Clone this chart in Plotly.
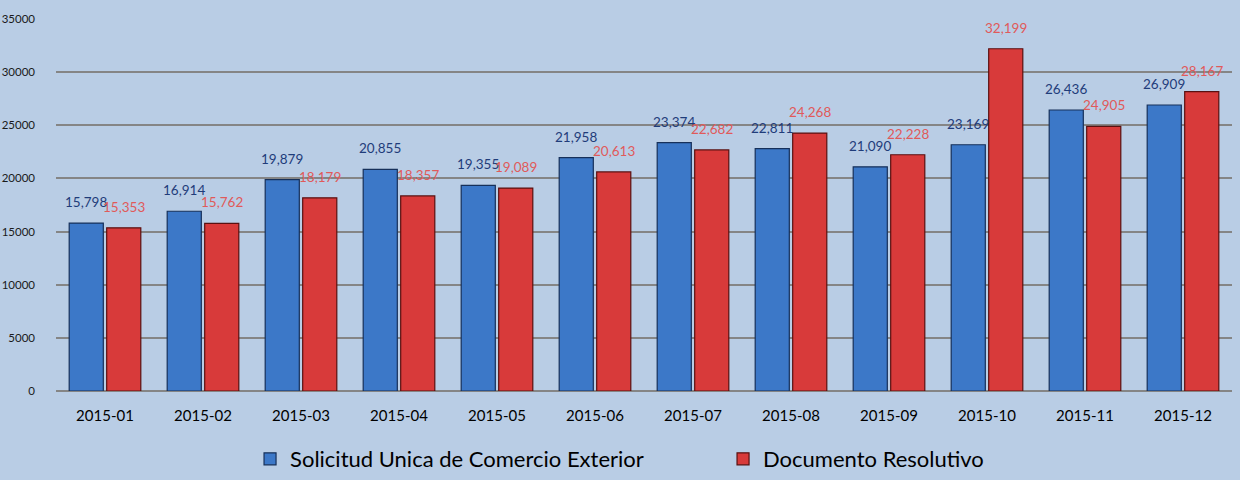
import plotly.graph_objects as go

months = ["2015-01", "2015-02", "2015-03", "2015-04", "2015-05", "2015-06",
          "2015-07", "2015-08", "2015-09", "2015-10", "2015-11", "2015-12"]
sol_unica = [15798, 16914, 19879, 20855, 19355, 21958,
             23374, 22811, 21090, 23169, 26436, 26909]
doc_resolutivo = [15353, 15762, 18179, 18357, 19089, 20613,
                  22682, 24268, 22228, 32199, 24905, 28167]

bg = "#B9CDE5"
font_name = "Lato, 'Open Sans', sans-serif"

fig = go.Figure()
fig.add_trace(go.Bar(
    x=months, y=sol_unica, name="Solicitud Unica de Comercio Exterior",
    marker=dict(color="#3C78C8", line=dict(color="#16305A", width=1.2)),
))
fig.add_trace(go.Bar(
    x=months, y=doc_resolutivo, name="Documento Resolutivo",
    marker=dict(color="#D83A3A", line=dict(color="#5A1010", width=1.2)),
))

# value labels sit ~21px above each bar top
for vals, shift, color in [(sol_unica, -19, "#1F3C7A"), (doc_resolutivo, 19, "#E05A5A")]:
    for m, v in zip(months, vals):
        fig.add_annotation(x=m, y=v, text=f"{v:,}", showarrow=False,
                           xshift=shift, yshift=21, yanchor="middle",
                           font=dict(color=color, size=13.5, family=font_name))

fig.update_layout(
    width=1240, height=480,
    paper_bgcolor=bg, plot_bgcolor=bg,
    margin=dict(l=56, r=8, t=19, b=89, autoexpand=False),
    barmode="group", bargap=0.235, bargroupgap=0.09,
    font=dict(family=font_name, color="#000000"),
    legend=dict(orientation="h", x=0.165, xanchor="left",
                yref="container", y=0.0, yanchor="bottom",
                entrywidth=428, entrywidthmode="pixels",
                font=dict(size=22, family=font_name),
                bgcolor="rgba(0,0,0,0)"),
)
fig.update_xaxes(type="category", showgrid=False, tickfont=dict(size=15),
                 ticks="", showline=False, ticklabelstandoff=14)
fig.update_yaxes(range=[0, 35000], dtick=5000, tickformat="d",
                 showgrid=True, gridcolor="#858585", gridwidth=2,
                 zeroline=True, zerolinecolor="#858585", zerolinewidth=2,
                 tickfont=dict(size=11.5, color="#1a1a1a"), ticks="",
                 ticklabelstandoff=20)

fig.write_html("out.html", config={"displayModeBar": False},
               post_script="document.body.style.margin='0';")
